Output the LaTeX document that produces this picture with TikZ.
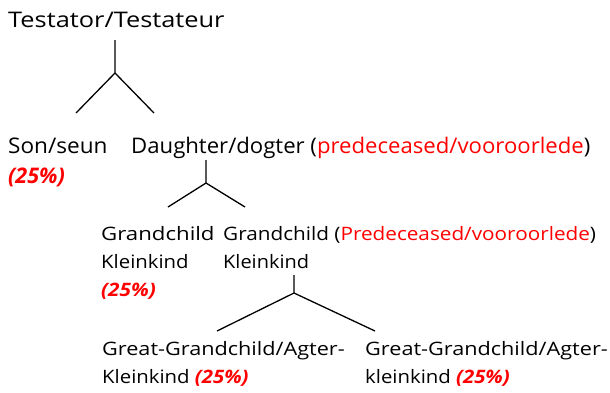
\documentclass[tikz,border=0pt]{standalone}
\usepackage{graphicx}
\usepackage{fontspec}
\setmainfont{Open Sans}
\definecolor{redtxt}{RGB}{255,0,0}
\tikzset{
  big/.style={anchor=base west, inner sep=0pt, font=\fontsize{21.5}{26}\selectfont},
  small/.style={anchor=base west, inner sep=0pt, font=\fontsize{18.5}{22}\selectfont},
  branch/.style={line width=1.3pt, black},
}
\newcommand{\pct}{\textcolor{redtxt}{\bfseries\itshape (25\%)}}
\newcommand{\red}[1]{\textcolor{redtxt}{#1}}
\newcommand{\sx}[2]{\scalebox{#1}[1]{#2}}
\begin{document}
\begin{tikzpicture}[x=1pt,y=-1pt]
\useasboundingbox (0,0) rectangle (610,392);
% level 0
\node[big] (testator) at (8,27) {\sx{1.18}{Testator/Testateur}};
\coordinate (a0) at (115,40);
\coordinate (a1) at (115,73);
\coordinate (al) at (76,113);
\coordinate (ar) at (154,113);
\draw[branch] (a0) -- (a1) -- (al);
\draw[branch] (a1) -- (ar);
% level 1
\node[big] (son) at (8,153) {\sx{1.05}{Son/seun}};
\node[big] (sonpct) at (8,183) {\pct};
\node[big] (daughter) at (131,153) {\sx{1.03}{Daughter/dogter (\red{predeceased/vooroorlede})}};
\coordinate (b0) at (206,160);
\coordinate (b1) at (206,183);
\coordinate (bl) at (168,207);
\coordinate (br) at (245,207);
\draw[branch] (b0) -- (b1) -- (bl);
\draw[branch] (b1) -- (br);
% level 2
\node[small] (gc1) at (101,240) {\sx{1.2}{Grandchild}};
\node[small] (gc1b) at (101,268) {\sx{1.1}{Kleinkind}};
\node[small] (gc1p) at (101,296) {\sx{1.12}{\pct}};
\node[small] (gc2) at (223,240) {\sx{1.12}{Grandchild (\red{Predeceased/vooroorlede})}};
\node[small] (gc2b) at (223,268) {\sx{1.08}{Kleinkind}};
\coordinate (c0) at (294,275);
\coordinate (c1) at (294,293);
\coordinate (cl) at (217,331);
\coordinate (cr) at (375,331);
\draw[branch] (c0) -- (c1) -- (cl);
\draw[branch] (c1) -- (cr);
% level 3
\node[small] (ggc1) at (102,355) {\sx{1.17}{Great-Grandchild/Agter-}};
\node[small] (ggc1b) at (102,383) {\sx{1.1}{Kleinkind \pct}};
\node[small] (ggc2) at (365,355) {\sx{1.17}{Great-Grandchild/Agter-}};
\node[small] (ggc2b) at (365,383) {\sx{1.1}{kleinkind \pct}};
\end{tikzpicture}
\end{document}
